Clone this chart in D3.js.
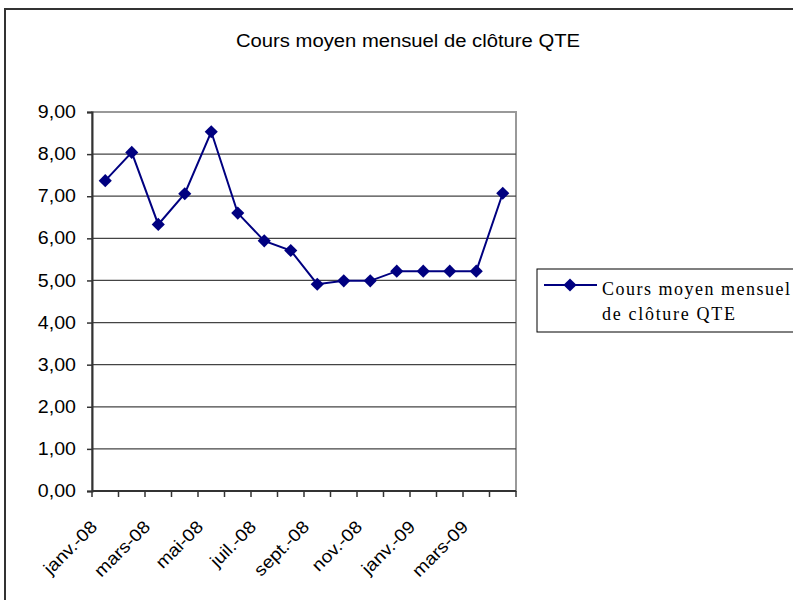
<!DOCTYPE html>
<html>
  <head>
    <meta charset="utf-8">
    <title>Cours moyen mensuel de clôture QTE</title>
    <script src="https://d3js.org/d3.v7.min.js"></script>
    <style>
      body { margin: 0; background: #fff; }
      svg { display: block; }
    </style>
  </head>
  <body>
    <svg></svg>
    <script>
      // months, Jan 2008 .. Apr 2009
      var months = ['janv.-08', 'févr.-08', 'mars-08', 'avr.-08', 'mai-08', 'juin-08',
                    'juil.-08', 'août-08', 'sept.-08', 'oct.-08', 'nov.-08', 'déc.-08',
                    'janv.-09', 'févr.-09', 'mars-09', 'avr.-09'];
      var cours = [7.37, 8.04, 6.33, 7.06, 8.53, 6.60, 5.94, 5.71,
                   4.91, 4.99, 4.99, 5.22, 5.22, 5.22, 5.22, 7.07];
      var yTicks = [0, 1, 2, 3, 4, 5, 6, 7, 8, 9];
      var title = 'Cours moyen mensuel de clôture QTE';
      var seriesName = ['Cours moyen mensuel', 'de clôture QTE'];

      var W = 793, H = 600;
      var svg = d3.select('svg').attr('width', W).attr('height', H);
      var sans = 'Liberation Sans, Arial, sans-serif';

      // the source picture is a bit stretched sideways: widen the text to match
      function stretch(sel, k) {
        sel.each(function() {
          var w = this.getComputedTextLength();
          d3.select(this).attr('textLength', w * k).attr('lengthAdjust', 'spacingAndGlyphs');
        });
      }

      // outer chart frame (runs off right and bottom)
      svg.append('rect')
         .attr('x', 5).attr('y', 9)
         .attr('width', W + 10).attr('height', H + 10)
         .attr('fill', '#fff')
         .attr('stroke', '#333')
         .attr('stroke-width', 2);

      svg.append('text')
         .attr('x', 236).attr('y', 47)
         .attr('font-family', sans)
         .attr('font-size', 18)
         .attr('textLength', 344)
         .attr('lengthAdjust', 'spacingAndGlyphs')
         .text(title);

      var plotL = 92, plotR = 516, plotT = 112, plotB = 491;

      var x = d3.scaleBand().domain(months).range([plotL, plotR]);
      var y = d3.scaleLinear().domain([0, 9]).range([plotB, plotT]);

      // plot area border
      svg.append('rect')
         .attr('x', plotL).attr('y', plotT)
         .attr('width', plotR - plotL).attr('height', plotB - plotT)
         .attr('fill', 'none')
         .attr('stroke', '#999')
         .attr('stroke-width', 2);

      // gridlines
      svg.append('g').selectAll('line')
         .data(yTicks.slice(1, -1))
         .enter().append('line')
         .attr('x1', plotL).attr('x2', plotR)
         .attr('y1', function(d) { return y(d); })
         .attr('y2', function(d) { return y(d); })
         .attr('stroke', '#444')
         .attr('stroke-width', 1.3);

      // y axis
      var yAxis = d3.axisLeft(y)
                    .tickValues(yTicks)
                    .tickSize(5)
                    .tickPadding(11)
                    .tickFormat(function(d) { return d3.format('.2f')(d).replace('.', ','); });
      var gy = svg.append('g')
                  .attr('transform', 'translate(' + plotL + ',0)')
                  .call(yAxis);
      gy.select('.domain').attr('stroke', '#333').attr('stroke-width', 2);
      gy.selectAll('.tick line').attr('stroke', '#333').attr('stroke-width', 1.5);
      gy.selectAll('.tick text')
        .attr('font-family', sans)
        .attr('font-size', 17.5)
        .attr('fill', '#000')
        .call(stretch, 1.12);

      // x axis: ticks at band boundaries, labels every other month
      var bounds = months.map(function(m) { return x(m); }).concat([plotR]);
      var gx = svg.append('g');
      gx.append('line')
        .attr('x1', plotL).attr('x2', plotR)
        .attr('y1', plotB).attr('y2', plotB)
        .attr('stroke', '#333').attr('stroke-width', 2);
      gx.selectAll('line.tk')
        .data(bounds)
        .enter().append('line')
        .attr('class', 'tk')
        .attr('x1', function(d) { return d; })
        .attr('x2', function(d) { return d; })
        .attr('y1', plotB).attr('y2', plotB + 6)
        .attr('stroke', '#333').attr('stroke-width', 1.5);
      gx.selectAll('text')
        .data(months.filter(function(m, i) { return i % 2 === 0; }))
        .enter().append('text')
        .attr('transform', function(d) {
          return 'translate(' + (x(d) + x.bandwidth() / 2 - 7) + ',' + (plotB + 37) + ') rotate(-45)';
        })
        .attr('text-anchor', 'end')
        .attr('font-family', sans)
        .attr('font-size', 17.5)
        .text(function(d) { return d; })
        .call(stretch, 1.1);

      // series line
      var line = d3.line()
                   .x(function(d, i) { return x(months[i]) + x.bandwidth() / 2; })
                   .y(function(d) { return y(d); });
      svg.append('path')
         .datum(cours)
         .attr('d', line)
         .attr('fill', 'none')
         .attr('stroke', '#000080')
         .attr('stroke-width', 2);

      var diamond = d3.symbol().type(d3.symbolDiamond2).size(110);
      svg.append('g').selectAll('path')
         .data(cours)
         .enter().append('path')
         .attr('d', diamond)
         .attr('transform', function(d, i) {
           return 'translate(' + (x(months[i]) + x.bandwidth() / 2) + ',' + y(d) + ')';
         })
         .attr('fill', '#000080');

      // legend
      var lg = svg.append('g');
      lg.append('rect')
        .attr('x', 537).attr('y', 269)
        .attr('width', 270).attr('height', 63)
        .attr('fill', '#fff')
        .attr('stroke', '#000')
        .attr('stroke-width', 1);
      lg.append('line')
        .attr('x1', 544).attr('x2', 597)
        .attr('y1', 285).attr('y2', 285)
        .attr('stroke', '#000080').attr('stroke-width', 2);
      lg.append('path')
        .attr('d', diamond)
        .attr('transform', 'translate(570,285)')
        .attr('fill', '#000080');
      var legendW = [188, 133];
      lg.selectAll('text')
        .data(seriesName)
        .enter().append('text')
        .attr('x', 602)
        .attr('y', function(d, i) { return 295 + i * 25; })
        .attr('font-family', 'Liberation Serif, Times New Roman, serif')
        .attr('font-size', 18)
        .attr('textLength', function(d, i) { return legendW[i]; })
        .attr('lengthAdjust', 'spacing')
        .text(function(d) { return d; });
    </script>
  </body>
</html>
